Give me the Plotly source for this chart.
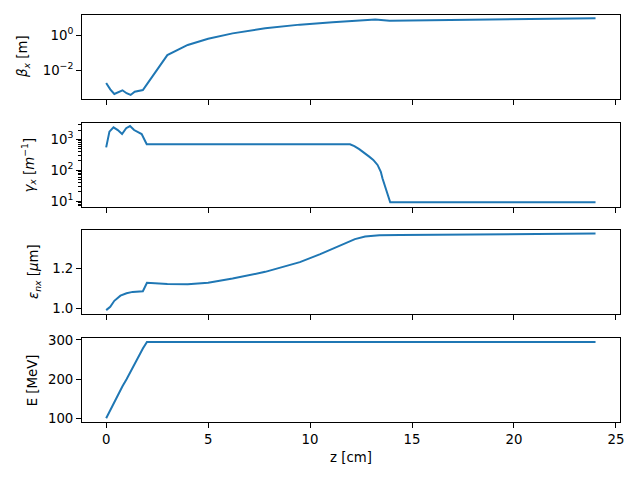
import plotly.graph_objects as go

# ---- data ----
z_beta = [0, 0.2, 0.4, 0.8, 1.0, 1.2, 1.4, 1.8, 3.0, 4.0, 5.0, 6.2, 7.8, 9.5, 11.1, 12.7, 13.2, 13.9, 15, 18, 21, 24]
beta_x = [0.00186, 0.00081, 0.000447, 0.00072, 0.00049, 0.00039, 0.0006, 0.00074, 0.074, 0.28, 0.63,
          1.29, 2.5, 4.07, 5.5, 7.4, 7.9, 6.8, 7.1, 7.8, 8.5, 9.3]

z_gamma = [0, 0.16, 0.36, 0.57, 0.78, 0.98, 1.17, 1.37, 1.74, 1.99, 11.96, 12.17, 12.41, 12.66, 12.9,
           13.1, 13.31, 13.47, 13.55, 13.93, 24]
gamma_x = [550, 1780, 2450, 2000, 1480, 2290, 2690, 2000, 1480, 690, 690, 600, 480, 370, 275,
           215, 148, 89, 55, 9.1, 9.1]

z_eps = [0, 0.2, 0.4, 0.7, 1.0, 1.3, 1.8, 2.0, 3.0, 4.0, 5.0, 6.2, 7.8, 9.5, 10.5, 11.4, 12.2, 12.7,
         13.4, 14.4, 24]
eps_nx = [0.991, 1.008, 1.038, 1.064, 1.076, 1.083, 1.086, 1.129, 1.123, 1.122, 1.129, 1.150, 1.184,
          1.233, 1.273, 1.315, 1.349, 1.362, 1.369, 1.370, 1.377]

z_E = [0, 0.2, 0.4, 0.6, 0.8, 1.0, 1.2, 1.4, 1.6, 1.8, 2.0, 24]
E_MeV = [100, 121, 142, 162, 182, 200, 220, 240, 260, 278, 295, 295]

x_ticks = [0, 5, 10, 15, 20, 25]
beta_ticks = [1, 0.01]
beta_ticktext = ["10<sup>0</sup>", "10<sup>\u22122</sup>"]
gamma_ticks = [10, 100, 1000]
gamma_ticktext = ["10<sup>1</sup>", "10<sup>2</sup>", "10<sup>3</sup>"]
gamma_minor = [7, 8, 9, 20, 30, 40, 50, 60, 70, 80, 90, 200, 300, 400, 500, 600, 700, 800, 900, 2000, 3000]
eps_ticks = [1.0, 1.2]
eps_ticktext = ["1.0", "1.2"]
E_ticks = [100, 200, 300]

# ---- layout geometry (page pixels; page body has an 8px margin) ----
OFF = 8
W, H = 640 - 2 * OFF, 480 - 2 * OFF


def fx(px):
    return (px - OFF) / W


def fy(py):
    return 1 - (py - OFF) / H


FONT = dict(family="DejaVu Sans", size=13.3, color="black")
LINE = dict(color="#1f77b4", width=2)
ydoms = [(15, 99), (123.3, 207.3), (230, 314.3), (338.3, 422.3)]

fig = go.Figure()
series = [(z_beta, beta_x), (z_gamma, gamma_x), (z_eps, eps_nx), (z_E, E_MeV)]
for i, (zz, vv) in enumerate(series, start=1):
    fig.add_trace(go.Scatter(x=zz, y=vv, mode="lines", line=LINE, showlegend=False,
                             xaxis="x" if i == 1 else f"x{i}", yaxis="y" if i == 1 else f"y{i}"))

common_axis = dict(showline=True, mirror=True, linecolor="black", linewidth=1, showgrid=False,
                   zeroline=False, ticks="outside", ticklen=4.7, tickwidth=1, tickcolor="black",
                   tickfont=FONT, automargin=False)

layout = dict(width=W, height=H, margin=dict(l=0, r=0, t=0, b=0), paper_bgcolor="white",
              plot_bgcolor="white", font=FONT)

yspecs = [
    dict(type="log", range=[-3.64, 1.16], tickmode="array", tickvals=beta_ticks, ticktext=beta_ticktext),
    dict(type="log", range=[0.797, 3.52], tickmode="array", tickvals=gamma_ticks, ticktext=gamma_ticktext,
         minor=dict(tickmode="array", tickvals=gamma_minor, ticks="outside", ticklen=2.7, tickwidth=0.8,
                    tickcolor="black", showgrid=False)),
    dict(range=[0.970, 1.395], tickmode="array", tickvals=eps_ticks, ticktext=eps_ticktext),
    dict(range=[89.8, 304.3], tickmode="array", tickvals=E_ticks),
]

for i in range(1, 5):
    top, bot = ydoms[i - 1]
    xname = "xaxis" if i == 1 else f"xaxis{i}"
    yname = "yaxis" if i == 1 else f"yaxis{i}"
    yref = "y" if i == 1 else f"y{i}"
    xref = "x" if i == 1 else f"x{i}"
    layout[xname] = dict(common_axis, domain=[fx(81.7), fx(620)], anchor=yref, range=[-1.2, 25.2],
                         tickmode="array", tickvals=x_ticks, showticklabels=(i == 4))
    layout[yname] = dict(common_axis, domain=[fy(bot), fy(top)], anchor=xref, **yspecs[i - 1])

fig.update_layout(**layout)

titles = [
    ("<i>β</i><sub><i>x</i></sub> [m]", 23, 57),
    ("<i>γ</i><sub><i>x</i></sub> [<i>m</i><sup>\u22121</sup>]", 28.3, 165.3),
    ("<i>ε</i><sub><i>nx</i></sub> [<i>μ</i>m]", 34, 272),
    ("E [MeV]", 32, 380.3),
]
for text, px, py in titles:
    fig.add_annotation(text=text, x=fx(px), y=fy(py), xref="paper", yref="paper",
                       xanchor="center", yanchor="middle", textangle=-90, showarrow=False, font=FONT)

fig.add_annotation(text="z [cm]", x=fx(350.8), y=fy(457.7), xref="paper", yref="paper",
                   xanchor="center", yanchor="middle", showarrow=False, font=FONT)

fig.write_html("out.html", config={"displayModeBar": False})
